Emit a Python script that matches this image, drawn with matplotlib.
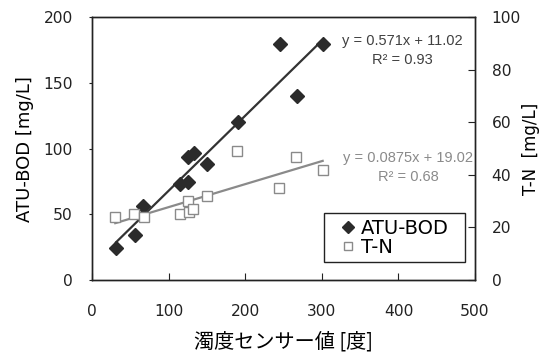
import matplotlib
matplotlib.use("Agg")
import matplotlib.pyplot as plt
import numpy as np

# turbidity sensor reading [度] and the two measured series
bod_x = [31, 56, 66, 115, 125, 125, 133, 150, 190, 245, 267, 302]
bod_y = [24, 34, 56, 73, 75, 94, 97, 88, 120, 180, 140, 180]
tn_x = [30, 55, 67, 115, 125, 126, 132, 150, 189, 244, 266, 301]
tn_y = [24, 25, 24, 25, 30, 26, 27, 32, 49, 35, 47, 42]

# trendline coefficients as printed on the chart (slope, intercept, r2)
bod_fit = (0.571, 11.02, 0.93)
tn_fit = (0.0875, 19.02, 0.68)

x_ticks = [0, 100, 200, 300, 400, 500]
left_ticks = [0, 50, 100, 150, 200]
right_ticks = [0, 20, 40, 60, 80, 100]

DARK = "#2b2b2b"
GREY = "#8a8a8a"

fig = plt.figure(figsize=(5.41, 3.54), dpi=100)
ax = fig.add_axes([0.1706, 0.209, 0.7074, 0.742])
ax2 = ax.twinx()

ax.plot(bod_x, bod_y, ls="none", marker="D", ms=7.0, color=DARK, zorder=3, label="ATU-BOD")
ax2.plot(tn_x, tn_y, ls="none", marker="s", ms=6.7, mfc="white", mec=GREY,
         mew=1.0, zorder=3, label="T-N")

xs = np.array([min(bod_x), max(bod_x)])
ax.plot(xs, bod_fit[0] * xs + bod_fit[1], color="#333333", lw=1.6, zorder=2)
xs = np.array([min(tn_x), max(tn_x)])
ax2.plot(xs, tn_fit[0] * xs + tn_fit[1], color=GREY, lw=1.6, zorder=2)

ax.set_xlim(0, 500)
ax.set_ylim(0, 200)
ax2.set_ylim(0, 100)
ax.set_xticks(x_ticks)
ax.set_yticks(left_ticks)
ax2.set_yticks(right_ticks)

for a in (ax, ax2):
    for s in a.spines.values():
        s.set_linewidth(1.0)
        s.set_color("#222222")
ax.tick_params(axis="x", direction="in", length=5, pad=17, labelsize=11.2, colors="#222222")
ax.tick_params(axis="y", direction="out", length=2, pad=12, labelsize=11.2, colors="#222222")
ax2.tick_params(axis="y", direction="in", length=5, pad=12, labelsize=11.2, colors="#222222")

ax.set_xlabel("濁度センサー値 [度]", family=["Noto Sans CJK JP", "DejaVu Sans"],
              fontsize=14.5, labelpad=9)
ax.set_ylabel("ATU-BOD [mg/L]", fontsize=13, labelpad=7)
ax2.set_ylabel("T-N  [mg/L]", fontsize=12, labelpad=1)

ax.text(0.809, 0.873, f"y = {bod_fit[0]:g}x + {bod_fit[1]:.2f}\nR\u00b2 = {bod_fit[2]:.2f}",
        transform=ax.transAxes, ha="center", va="center", multialignment="center",
        family="Liberation Sans", fontsize=10.5, color="#404040", linespacing=1.45)
ax.text(0.825, 0.43, f"y = {tn_fit[0]:g}x + {tn_fit[1]:.2f}\nR\u00b2 = {tn_fit[2]:.2f}",
        transform=ax.transAxes, ha="center", va="center", multialignment="center",
        family="Liberation Sans", fontsize=10.5, color=GREY, linespacing=1.45)

h1, l1 = ax.get_legend_handles_labels()
h2, l2 = ax2.get_legend_handles_labels()
leg = ax2.legend(h1[:1] + h2[:1], l1[:1] + l2[:1], loc="lower left",
                 bbox_to_anchor=(0.6054, 0.067, 0.3684, 0.1), mode="expand", numpoints=1,
                 fontsize=14, frameon=True, fancybox=False, framealpha=1,
                 edgecolor="#222222", handlelength=1.88, handletextpad=-0.27,
                 labelspacing=0.0, borderpad=0.3, borderaxespad=0, markerscale=0.9)
leg.get_frame().set_linewidth(1.0)

fig.savefig("out.png", dpi=100)
